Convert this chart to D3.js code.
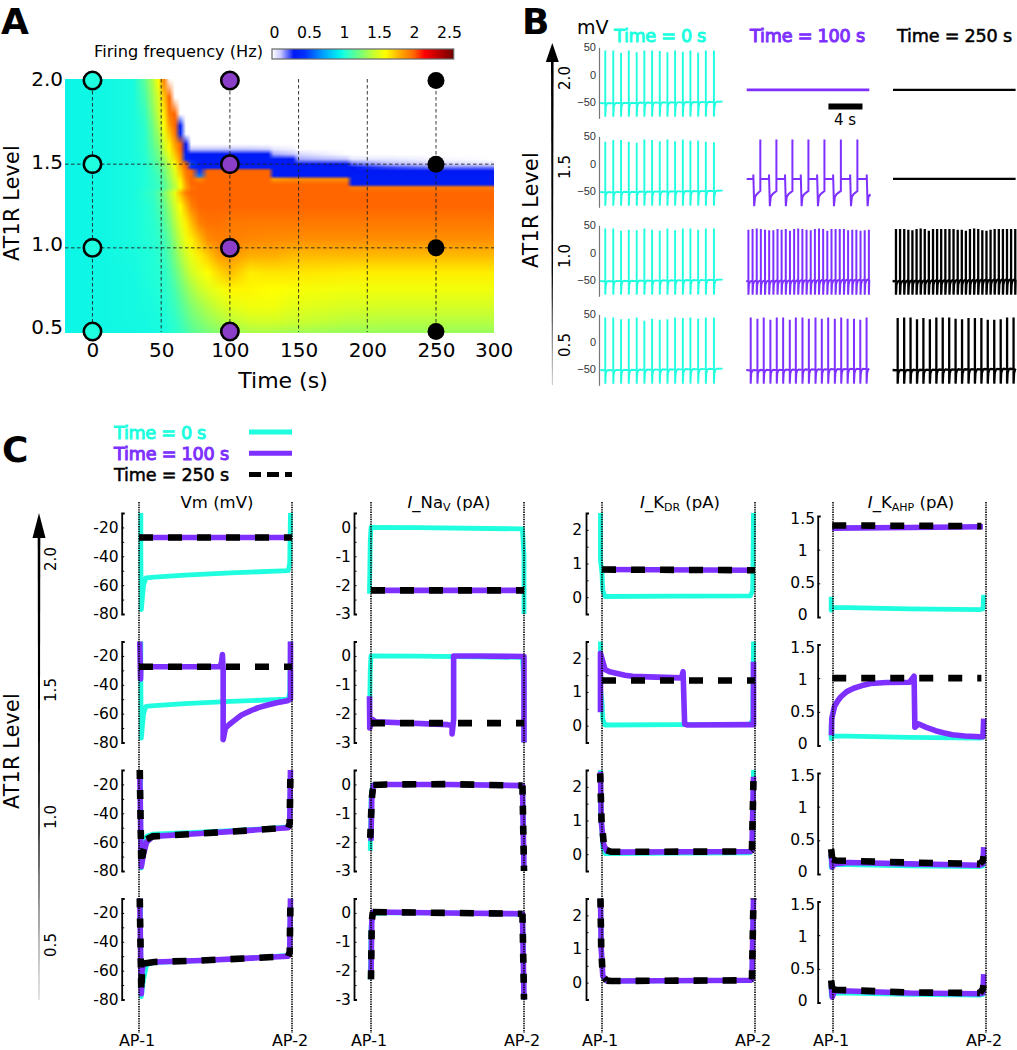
<!DOCTYPE html>
<html>
<head>
<meta charset="utf-8">
<script src="https://cdn.jsdelivr.net/npm/d3@7"></script>
<style>
  body { margin: 0; background: #fff; }
  svg { display: block; }
  text { font-family: "DejaVu Sans", sans-serif; fill: #000; }
</style>
</head>
<body>
<svg id="chart" width="1017" height="1050"></svg>
<script>
const CYAN = '#1fffdf'
const PURPLE = '#7d30ff'
const MARKER_PURPLE = '#8b3fc9'

// panel A: firing frequency, one row per level, one column per time
const heatTimes = [-20, 10, 30, 38, 44, 48, 52, 56, 60, 64, 68, 72, 78, 84, 92, 100, 115, 128, 132, 146, 150, 185, 189, 215, 250, 292]
const heatLevels = [2.01, 1.9, 1.8, 1.73, 1.68, 1.62, 1.59, 1.56, 1.53, 1.5, 1.48, 1.46, 1.43, 1.41, 1.38, 1.36, 1.33, 1.25, 1.15, 1.05, 0.95, 0.85, 0.75, 0.65, 0.55, 0.5]
const heatFreq = [
  [.95, .96, .98, 1.15, 1.35, 1.56, 1.9, 0, 0, 0, 0, 0, 0, 0, 0, 0, 0, 0, 0, 0, 0, 0, 0, 0, 0, 0],
  [.95, .96, .98, 1.1, 1.3, 1.45, 1.7, 1.95, 0, 0, 0, 0, 0, 0, 0, 0, 0, 0, 0, 0, 0, 0, 0, 0, 0, 0],
  [.95, .96, .98, 1.05, 1.25, 1.4, 1.6, 1.9, 1.95, 0, 0, 0, 0, 0, 0, 0, 0, 0, 0, 0, 0, 0, 0, 0, 0, 0],
  [.95, .96, .98, 1.03, 1.2, 1.35, 1.55, 1.8, 1.95, .35, 0, 0, 0, 0, 0, 0, 0, 0, 0, 0, 0, 0, 0, 0, 0, 0],
  [.95, .96, .98, 1.02, 1.18, 1.3, 1.5, 1.7, 1.9, .4, 0, 0, 0, 0, 0, 0, 0, 0, 0, 0, 0, 0, 0, 0, 0, 0],
  [.95, .96, .98, 1.02, 1.15, 1.25, 1.42, 1.6, 1.8, 1.95, .3, 0, 0, 0, 0, 0, 0, 0, 0, 0, 0, 0, 0, 0, 0, 0],
  [.95, .96, .98, 1.02, 1.13, 1.22, 1.4, 1.58, 1.75, 1.95, .3, .12, .12, .12, .12, .12, .12, .1, .05, .03, 0, 0, 0, 0, 0, 0],
  [.95, .96, .98, 1.01, 1.12, 1.2, 1.35, 1.5, 1.7, 1.9, .35, .32, .32, .32, .32, .32, .32, .3, .15, .12, .08, 0, 0, 0, 0, 0],
  [.95, .96, .98, 1.01, 1.1, 1.18, 1.3, 1.45, 1.65, 1.85, .4, .33, .33, .33, .33, .33, .33, .33, .32, .3, .15, .12, .05, .05, .02, 0],
  [.95, .96, .98, 1, 1.08, 1.15, 1.25, 1.4, 1.56, 1.8, 1.95, .5, .32, .32, .32, .32, .32, .32, .32, .32, .32, .3, .22, .14, .1, .06],
  [.95, .96, .98, 1, 1.06, 1.12, 1.22, 1.35, 1.5, 1.75, 1.95, .4, .33, .35, .35, .35, .35, .35, .32, .32, .32, .32, .3, .25, .2, .2],
  [.95, .96, .98, 1, 1.05, 1.1, 1.2, 1.32, 1.48, 1.7, 1.9, 1.95, .45, 1.95, 1.95, 1.95, 1.95, 1.95, .32, .32, .32, .32, .3, .3, .3, .3],
  [.95, .96, .98, 1, 1.04, 1.08, 1.18, 1.3, 1.45, 1.65, 1.88, 1.95, .6, 1.95, 1.95, 1.95, 1.95, 1.95, .34, .32, .32, .32, .32, .32, .32, .32],
  [.95, .96, .98, 1, 1.04, 1.07, 1.16, 1.28, 1.42, 1.6, 1.85, 1.95, 1.85, 1.95, 1.95, 1.95, 1.95, 1.95, 1.8, 1.85, 1.85, 1.85, .32, .32, .32, .32],
  [.95, .96, .98, 1, 1.03, 1.06, 1.14, 1.25, 1.38, 1.56, 1.8, 1.95, 1.95, 1.95, 1.95, 1.95, 1.95, 1.95, 1.95, 1.95, 1.95, 1.95, .33, .33, .33, .33],
  [.95, .96, .98, 1, 1.03, 1.05, 1.13, 1.24, 1.36, 1.54, 1.78, 1.92, 1.95, 1.95, 1.95, 1.95, 1.95, 1.95, 1.95, 1.95, 1.95, 1.95, 1.9, 1.9, 1.9, 1.9],
  [.95, .96, .98, 1.02, 1.05, 1.12, 1.22, 1.35, 1.5, 1.72, 1.9, 1.95, 1.95, 1.95, 1.95, 1.95, 1.95, 1.95, 1.95, 1.95, 1.95, 1.95, 1.95, 1.95, 1.95, 1.95],
  [.95, .96, .98, 1, 1.03, 1.08, 1.16, 1.28, 1.42, 1.56, 1.72, 1.88, 1.95, 1.95, 1.95, 1.95, 1.95, 1.95, 1.95, 1.95, 1.95, 1.95, 1.95, 1.95, 1.95, 1.95],
  [.95, .96, .98, 1, 1.02, 1.05, 1.12, 1.22, 1.35, 1.48, 1.6, 1.72, 1.88, 1.92, 1.92, 1.9, 1.9, 1.9, 1.9, 1.9, 1.9, 1.9, 1.9, 1.9, 1.9, 1.9],
  [.95, .96, .98, 1, 1.01, 1.03, 1.08, 1.16, 1.28, 1.4, 1.52, 1.6, 1.72, 1.85, 1.88, 1.88, 1.86, 1.85, 1.85, 1.84, 1.84, 1.84, 1.84, 1.84, 1.84, 1.84],
  [.95, .96, .98, .99, 1, 1.02, 1.05, 1.12, 1.22, 1.33, 1.42, 1.5, 1.6, 1.68, 1.8, 1.82, 1.75, 1.75, 1.75, 1.72, 1.72, 1.72, 1.72, 1.72, 1.72, 1.72],
  [.95, .96, .97, .99, 1, 1.01, 1.03, 1.08, 1.16, 1.25, 1.34, 1.42, 1.5, 1.56, 1.65, 1.72, 1.6, 1.62, 1.62, 1.62, 1.62, 1.6, 1.6, 1.6, 1.6, 1.6],
  [.95, .96, .97, .98, .99, 1, 1.02, 1.05, 1.1, 1.18, 1.25, 1.32, 1.4, 1.46, 1.52, 1.58, 1.58, 1.56, 1.56, 1.54, 1.54, 1.52, 1.52, 1.52, 1.52, 1.52],
  [.95, .96, .97, .98, .98, .99, 1, 1.03, 1.06, 1.12, 1.18, 1.24, 1.3, 1.36, 1.42, 1.48, 1.52, 1.52, 1.52, 1.48, 1.48, 1.45, 1.45, 1.44, 1.44, 1.44],
  [.95, .96, .97, .97, .98, .98, .99, 1.01, 1.03, 1.07, 1.12, 1.17, 1.22, 1.27, 1.32, 1.36, 1.42, 1.42, 1.42, 1.4, 1.4, 1.36, 1.36, 1.35, 1.35, 1.35],
  [.95, .96, .96, .97, .97, .98, .98, 1, 1.02, 1.05, 1.09, 1.14, 1.18, 1.22, 1.26, 1.3, 1.34, 1.34, 1.34, 1.32, 1.32, 1.3, 1.3, 1.3, 1.3, 1.3]
]
const colorValues = [0, .12, .3, .45, .7, .92, 1, 1.2, 1.4, 1.56, 1.75, 1.95, 2.1, 2.5]
const colorNames = ['#ffffff', '#c8c8ff', '#0018f4', '#0030ff', '#00a0ff', '#00f0f0', '#20ffd8', '#70ff80', '#c8ff30', '#ffff00', '#ffb000', '#ff6600', '#ff0000', '#700000']
const colorTicks = [0, 0.5, 1, 1.5, 2, 2.5]
const timeTicks = [0, 50, 100, 150, 200, 250, 300]
const gridTimes = [0, 50, 100, 150, 200, 250]
const levelTicks = [2, 1.5, 1, 0.5]
const gridLevels = [1.5, 1]
const markerTimes = [0, 100, 250]

// panel B: spike times (s) and peak voltages (mV) of each trace
const spikes0 = [.62, 1.56, 2.47, 3.38, 4.31, 5.21, 6.12, 7.02, 7.92, 8.82, 9.73, 10.62, 11.53, 12.43, 13.38]
const peaks0L20 = [44, 44, 40, 44, 41, 44, 44, 43, 41, 44, 42, 44, 40, 44, 44]
const peaks0L15 = [40, 43, 43, 40, 38, 44, 43, 41, 44, 41, 44, 42, 42, 40, 39]
const peaks0L10 = [44, 44, 40, 42, 41, 44, 42, 40, 44, 41, 44, 44, 42, 44, 44]
const peaks0L05 = [44, 44, 41, 42, 44, 38, 42, 40, 41, 44, 43, 44, 42, 44, 44]
const spikes100L10 = [.2, .69, 1.18, 1.66, 2.15, 2.64, 3.13, 3.62, 4.1, 4.59, 5.08, 5.57, 6.05, 6.54, 7.03, 7.52, 8.01, 8.49, 8.98, 9.47, 9.96, 10.44, 10.93, 11.42, 11.91, 12.4, 12.88, 13.37, 13.86, 14.35]
const peaks100L10 = [42, 43, 44, 43, 42, 41, 41, 43, 42, 43, 40, 43, 44, 43, 42, 41, 43, 44, 43, 40, 43, 43, 43, 43, 41, 42, 42, 40, 41, 42]
const spikes100L05 = [.47, 1.26, 2, 2.78, 3.53, 4.28, 5.06, 5.77, 6.55, 7.3, 8.08, 8.82, 9.57, 10.35, 11.1, 11.85, 12.6, 13.34, 14.08]
const peaks100L05 = [44, 42, 44, 40, 44, 44, 40, 44, 44, 42, 44, 42, 44, 42, 44, 42, 42, 40, 44]
const spikes250L10 = [.35, .83, 1.32, 1.8, 2.28, 2.77, 3.25, 3.73, 4.21, 4.7, 5.18, 5.66, 6.15, 6.63, 7.11, 7.6, 8.08, 8.56, 9.04, 9.53, 10.01, 10.49, 10.98, 11.46, 11.94, 12.43, 12.91, 13.39, 13.87, 14.36]
const peaks250L10 = [43, 43, 43, 42, 41, 43, 44, 43, 40, 43, 43, 43, 43, 43, 43, 42, 42, 40, 43, 44, 43, 41, 40, 42, 43, 43, 43, 43, 43, 43]
const spikes250L05 = [.55, 1.31, 2.06, 2.82, 3.57, 4.33, 5.09, 5.84, 6.6, 7.35, 8.11, 8.87, 9.62, 10.38, 11.13, 11.89, 12.65, 13.4, 14.16]
const peaks250L05 = [43, 44, 44, 41, 43, 41, 44, 44, 44, 42, 41, 43, 43, 43, 40, 40, 41, 44, 44]
// level 1.5 at 100 s alternates between a plateau and a spike
const burstBumps = [.78, 2.62, 4.5, 6.35, 8.27, 10.15, 12.15, 14.1]
const burstSpikes = [1.6, 3.49, 5.37, 7.25, 9.13, 11.06, 13, 14.4]
const plateau100 = [-28]
const plateau250 = [-28]
const traceTicks = [50, 0, -50]
const traceLevels = ['2.0', '1.5', '1.0', '0.5']

// panel C: x runs from AP-1 (0) to AP-2 (1)
const vmCyan = [[.012, -10], [.012, -40], [.015, -77], [.03, -60], [.045, -55], [.1, -54.5], [.3, -53], [.6, -51.5], [.975, -50], [.985, -45], [.99, -10]]
const vmFlat20 = [[0, -27], [1, -27]]
const vmFlat15 = [[0, -27.5], [1, -27.5]]
const vmPurple15 = [[.005, -10], [.01, -36], [.012, -27.5], [.53, -27.5], [.54, -24], [.545, -19], [.55, -30], [.55, -78], [.565, -70], [.59, -67.5], [.62, -65], [.67, -61], [.73, -58], [.78, -55.8], [.84, -54], [.9, -52.5], [.97, -51], [.99, -50], [.99, -10]]
const vmCyan10 = [[.01, -10], [.012, -60], [.015, -78], [.03, -66], [.05, -56], [.09, -54.5], [.4, -53], [.7, -51.5], [.975, -49.5], [.985, -47], [.99, -10]]
const vmPurple10 = [[.005, -10], [.012, -60], [.015, -77], [.03, -68], [.05, -60], [.09, -56], [.4, -54], [.7, -52], [.975, -50], [.985, -48], [.99, -10]]
const vmBlack10 = [[.005, -10], [.012, -55], [.015, -75], [.03, -65], [.05, -58], [.09, -56], [.4, -54], [.7, -52], [.975, -50], [.985, -47], [.99, -10]]
const vmPurple05 = [[.005, -10], [.012, -60], [.015, -76], [.02, -60], [.03, -55], [.1, -54], [.4, -53], [.7, -51.5], [.975, -50], [.985, -48], [.99, -10]]
const vmBlack05 = [[.005, -10], [.012, -55], [.015, -74], [.02, -60], [.03, -55], [.1, -54], [.4, -53], [.7, -51.5], [.975, -50], [.985, -47], [.99, -10]]

const naCyan = [[-.01, -2.3], [-.005, -.5], [0, 0], [.3, -.01], [.99, -.05], [1, -1], [1, -3]]
const naFlat20 = [[0, -2.18], [1, -2.18]]
const naFlat15 = [[0, -2.33], [1, -2.33]]
const naPurple15 = [[-.01, -1.4], [-.008, -2.5], [.01, -2.2], [.03, -2.28], [.5, -2.38], [.53, -2.42], [.53, -2.7], [.54, -2.2], [.54, 0], [.7, 0], [1, -.02], [1, -3]]
const naCyan10 = [[-.005, -2.3], [0, -.5], [.01, -.02], [.1, 0], [.5, 0], [.99, -.04], [1, -3]]
const naPurple10 = [[0, -1.95], [.005, -.5], [.015, -.03], [.1, 0], [.5, 0], [.99, -.04], [1, -3]]
const naBlack10 = [[-.005, -1.85], [.005, -.5], [.015, -.02], [.1, 0], [.5, .01], [.99, -.04], [1, -3]]
const naPurple05 = [[0, -2.3], [.005, -.3], [.012, .03], [.5, 0], [.99, -.03], [1, -3]]

const kdrCyan = [[-.01, 2.5], [-.01, 1.1], [0, .7], [.005, .2], [.02, .02], [.5, .03], [.97, .04], [.985, .2], [.99, 2.5]]
const kdrFlat20 = [[0, .82], [1, .8]]
const kdrFlat15 = [[0, 1.34], [1, 1.34]]
const kdrPurple15 = [[-.01, .4], [-.01, 2.15], [.02, 1.67], [.05, 1.6], [.1, 1.55], [.15, 1.5], [.2, 1.47], [.3, 1.45], [.52, 1.42], [.53, 1.6], [.54, .05], [.56, .02], [.97, .03], [.99, .03], [.99, 1.9]]
const kdrPurple10 = [[-.01, 2.45], [-.005, 1], [.01, .3], [.03, .1], [.06, .06], [.97, .08], [.98, .1], [.99, 2.3]]
const kdrBlack10 = [[-.012, 2.4], [-.003, 1], [.012, .3], [.03, .12], [.06, .07], [.97, .08], [.98, .12], [.99, 2.2]]
const kdrPurple05 = [[-.01, 2.5], [-.005, 1], [.005, .2], [.03, .06], [.06, .05], [.97, .07], [.98, .1], [.99, 2.5]]

const ahpCyan = [[-.012, .3], [-.012, .1], [0, .14], [.1, .14], [.5, .12], [.96, .11], [.98, .12], [.985, .33]]
const ahpFlat20 = [[-.005, 1.32], [.5, 1.33], [.98, 1.34]]
const ahpBlack20 = [[-.005, 1.36], [.97, 1.35]]
const ahpBlack15 = [[-.005, 1], [.97, 1]]
const ahpPurple15 = [[-.01, .15], [-.008, .4], [.01, .58], [.03, .66], [.05, .72], [.09, .8], [.135, .85], [.19, .89], [.245, .92], [.35, .935], [.5, .94], [.53, 1.03], [.535, .27], [.56, .32], [.61, .27], [.67, .22], [.72, .19], [.78, .16], [.86, .14], [.96, .13], [.98, .13], [.985, .4]]
const ahpPurple10 = [[-.012, .3], [-.005, .1], [.01, .15], [.1, .17], [.5, .15], [.96, .13], [.98, .15], [.985, .4]]
const ahpBlack10 = [[-.012, .37], [-.005, .22], [.02, .2], [.5, .17], [.96, .15], [.98, .2], [.985, .3]]
const ahpPurple05 = [[-.012, .27], [-.005, .08], [.01, .17], [.1, .17], [.5, .14], [.96, .13], [.98, .14], [.985, .42]]
const ahpBlack05 = [[-.012, .33], [-.005, .2], [.02, .19], [.5, .15], [.96, .14], [.98, .2], [.985, .3]]

const currentRows = [
  [[vmCyan, vmFlat20, vmFlat20], [vmCyan, vmPurple15, vmFlat15], [vmCyan10, vmPurple10, vmBlack10], [vmCyan10, vmPurple05, vmBlack05]],
  [[naCyan, naFlat20, naFlat20], [naCyan, naPurple15, naFlat15], [naCyan10, naPurple10, naBlack10], [naCyan10, naPurple05, naPurple05]],
  [[kdrCyan, kdrFlat20, kdrFlat20], [kdrCyan, kdrPurple15, kdrFlat15], [kdrCyan, kdrPurple10, kdrBlack10], [kdrPurple05, kdrPurple05, kdrPurple05]],
  [[ahpCyan, ahpFlat20, ahpBlack20], [ahpCyan, ahpPurple15, ahpBlack15], [ahpCyan, ahpPurple10, ahpBlack10], [ahpCyan, ahpPurple05, ahpBlack05]]
]
const vmTicks = [-10, -20, -30, -40, -50, -60, -70, -80]
const naTicks = [.5, 0, -.5, -1, -1.5, -2, -2.5, -3]
const kdrTicks = [2.5, 2, 1.5, 1, .5, 0, -.5]
const ahpTicks = [1.5, 1, .5, 0]
const legendNames = ['Time = 0 s', 'Time = 100 s', 'Time = 250 s']
const seriesColors = [CYAN, PURPLE, '#000']

const svg = d3.select('#chart')

// ---------- panel labels ----------
const panelLabels = [['A', 1, 33.5], ['B', 522, 33.5], ['C', 2, 462]]
svg.selectAll('.panel-label')
  .data(panelLabels)
  .join('text')
  .attr('class', 'panel-label')
  .attr('x', (d) => d[1])
  .attr('y', (d) => d[2])
  .attr('font-size', 36)
  .attr('font-weight', 'bold')
  .text((d) => d[0])

const levelTitle = (x, y) => {
  svg.append('text')
    .attr('transform', `translate(${x},${y}) rotate(-90)`)
    .attr('text-anchor', 'middle')
    .attr('font-size', 20.5)
    .attr('letter-spacing', 0.3)
    .text('AT1R Level')
}

// ---------- panel A ----------
const drawHeat = () => {
  const x = d3.scaleLinear().domain([-20, 292]).range([65, 493.7]).clamp(true)
  const y = d3.scaleLinear().domain([2, 0.5]).range([80.5, 331.5])
  const color = d3.scaleLinear().domain(colorValues).range(colorNames)

  // colors are blended in rgb between the cells, as a resampled image would be
  const cells = heatFreq.map((row) => row.map((v) => d3.rgb(color(v))))
  const negLevels = heatLevels.map((d) => -d)
  const x0 = 65
  const y0 = Math.round(y(2.01))
  const w = 429
  const h = Math.round(y(0.5)) - y0 + 1
  const canvas = document.createElement('canvas')
  canvas.width = w
  canvas.height = h
  const ctx = canvas.getContext('2d')
  const img = ctx.createImageData(w, h)
  for (let py = 0; py < h; py++) {
    const level = y.invert(y0 + py + 0.5)
    const j = Math.min(Math.max(d3.bisectLeft(negLevels, -level), 1), heatLevels.length - 1)
    const fy = Math.min(Math.max((heatLevels[j - 1] - level) / (heatLevels[j - 1] - heatLevels[j]), 0), 1)
    for (let px = 0; px < w; px++) {
      const t = x.invert(x0 + px + 0.5)
      const i = Math.min(Math.max(d3.bisectLeft(heatTimes, t), 1), heatTimes.length - 1)
      const fx = (t - heatTimes[i - 1]) / (heatTimes[i] - heatTimes[i - 1])
      const mix = (k) => (cells[j - 1][i - 1][k] * (1 - fx) + cells[j - 1][i][k] * fx) * (1 - fy) +
        (cells[j][i - 1][k] * (1 - fx) + cells[j][i][k] * fx) * fy
      const o = (py * w + px) * 4
      img.data[o] = mix('r')
      img.data[o + 1] = mix('g')
      img.data[o + 2] = mix('b')
      img.data[o + 3] = 255
    }
  }
  ctx.putImageData(img, 0, 0)
  const a = svg.append('g').attr('class', 'panel-a')
  a.append('image')
    .attr('x', x0)
    .attr('y', y0)
    .attr('width', w)
    .attr('height', h)
    .attr('href', canvas.toDataURL())

  // dashed guide lines
  a.selectAll('.grid-v')
    .data(gridTimes)
    .join('line')
    .attr('x1', (d) => x(d))
    .attr('x2', (d) => x(d))
    .attr('y1', 79)
    .attr('y2', 332)
  a.selectAll('.grid-h')
    .data(gridLevels)
    .join('line')
    .attr('x1', 65)
    .attr('x2', 494)
    .attr('y1', (d) => y(d))
    .attr('y2', (d) => y(d))
  a.selectAll('line')
    .attr('stroke', '#222')
    .attr('stroke-width', 0.9)
    .attr('stroke-dasharray', '3.5,2.5')

  // markers
  const markers = markerTimes.flatMap((t, i) => levelTicks.map((l) => ({ t, l, i })))
  a.selectAll('circle')
    .data(markers)
    .join('circle')
    .attr('cx', (d) => x(d.t))
    .attr('cy', (d) => y(d.l))
    .attr('r', (d) => (d.i === 2 ? 8.5 : 8.7))
    .attr('fill', (d) => [CYAN, MARKER_PURPLE, '#000'][d.i])
    .attr('stroke', '#000')
    .attr('stroke-width', (d) => (d.i === 2 ? 0 : 2.6))

  // time labels, the 300 sits at the clamped right edge
  const xAxis = d3.axisBottom(x).tickValues(timeTicks).tickSize(0).tickPadding(0)
  const gx = a.append('g').attr('transform', 'translate(0,343)').call(xAxis)
  gx.select('.domain').remove()
  gx.selectAll('text').attr('font-size', 20)

  const labelY = d3.scaleLinear().domain([2, 0.5]).range([79, 327])
  const yAxis = d3.axisLeft(labelY).tickValues(levelTicks).tickFormat(d3.format('.1f')).tickSize(0).tickPadding(0)
  const gy = a.append('g').attr('transform', 'translate(63,0)').call(yAxis)
  gy.select('.domain').remove()
  gy.selectAll('text').attr('font-size', 20)

  a.append('text')
    .attr('x', 283)
    .attr('y', 388)
    .attr('text-anchor', 'middle')
    .attr('font-size', 22)
    .text('Time (s)')
  levelTitle(19, 203)

  // colorbar
  const defs = svg.append('defs')
  const cb = d3.scaleLinear().domain([0, 2.5]).range([272, 453.7])
  const grad = defs.append('linearGradient').attr('id', 'colorbar')
  grad.selectAll('stop')
    .data(colorValues)
    .join('stop')
    .attr('offset', (d) => d / 2.5)
    .attr('stop-color', (d) => color(d))
  a.append('rect')
    .attr('x', cb(0))
    .attr('y', 49)
    .attr('width', cb(2.5) - cb(0))
    .attr('height', 10)
    .attr('fill', 'url(#colorbar)')
    .attr('stroke', '#666')
    .attr('stroke-width', 1.2)
  const labelCb = d3.scaleLinear().domain([0, 2.5]).range([274, 449])
  const gc = a.append('g')
    .attr('transform', 'translate(0,27)')
    .call(d3.axisBottom(labelCb).tickValues(colorTicks).tickFormat(String).tickSize(0).tickPadding(0))
  gc.select('.domain').remove()
  gc.selectAll('text').attr('font-size', 15.7)
  a.append('text')
    .attr('x', 94)
    .attr('y', 57)
    .attr('font-size', 16.2)
    .text('Firing frequency (Hz)')
}

// ---------- panel B ----------
const ROW_STEP_B = 89
const traceX = d3.scaleLinear().domain([0, 14.4]).range([0, 122.6])
const traceY = d3.scaleLinear().domain([50, -80]).range([47.3, 118.3])
const traceLine = d3.line().x((d) => traceX(d[0])).y((d) => traceY(d[1]))

// flat base with the spike going up to its peak and down to the trough
const spikeTrain = (times, peaks) => {
  const pts = [[Math.max(times[0] - 0.6, -0.05), -52]]
  times.forEach((s, i) => {
    const base = -52 + (s / 14.4) * 2.5
    pts.push([s, base - 1], [s, peaks[i]], [s, -77], [s + 0.06, -58], [s + 0.18, base - 1.5], [s + 0.34, base])
  })
  pts.push([14.4, -49.5])
  return pts.filter((d) => d[0] <= 14.4)
}

const burstTrain = () => {
  const pts = [[0, plateau100[0]]]
  burstBumps.forEach((b, i) => {
    const s = burstSpikes[i]
    pts.push([b, -28], [b, -20], [b + 0.1, -78], [b + 0.2, -61], [b + 0.4, -56])
    if (i < burstBumps.length - 1) pts.push([s, -50], [s, 44], [s, -28])
    else pts.push([s, -60])
  })
  return pts
}

const traceCols = [
  { x: 600, color: CYAN, width: 1.9, rows: [
    spikeTrain(spikes0, peaks0L20), spikeTrain(spikes0, peaks0L15),
    spikeTrain(spikes0, peaks0L10), spikeTrain(spikes0, peaks0L05)] },
  { x: 746.7, color: PURPLE, width: 2, rows: [
    [[0, plateau100[0]], [14.4, plateau100[0]]], burstTrain(),
    spikeTrain(spikes100L10, peaks100L10), spikeTrain(spikes100L05, peaks100L05)] },
  { x: 893, color: '#000', width: 2.3, rows: [
    [[0, plateau250[0]], [14.4, plateau250[0]]], [[0, plateau250[0]], [14.4, plateau250[0]]],
    spikeTrain(spikes250L10, peaks250L10), spikeTrain(spikes250L05, peaks250L05)] }
]

const drawArrow = (g, x, tip, headBase, tail, id) => {
  const grad = svg.select('defs').append('linearGradient')
    .attr('id', id)
    .attr('gradientUnits', 'userSpaceOnUse')
    .attr('x1', 0).attr('x2', 0).attr('y1', tip).attr('y2', tail)
  grad.append('stop').attr('offset', 0.65).attr('stop-color', '#000')
  grad.append('stop').attr('offset', 1).attr('stop-color', '#bbb')
  g.append('path')
    .attr('d', `M${x - 1.3},${headBase} L${x + 1.3},${headBase} L${x + 0.4},${tail} L${x - 0.4},${tail} Z`)
    .attr('fill', `url(#${id})`)
  g.append('path')
    .attr('d', `M${x},${tip} L${x + 6.5},${headBase} L${x - 6.5},${headBase} Z`)
    .attr('fill', '#000')
}

const drawTraces = () => {
  const b = svg.append('g').attr('class', 'panel-b')
  drawArrow(b, 552.3, 43, 62, 385, 'arrowB')
  levelTitle(538, 210)

  traceLevels.forEach((name, r) => {
    const rowY = r * ROW_STEP_B
    b.append('text')
      .attr('transform', `translate(570,${78 + rowY}) rotate(-90)`)
      .attr('text-anchor', 'middle')
      .attr('font-size', 15)
      .text(name)

    const g = b.append('g')
      .attr('transform', `translate(599,${rowY})`)
      .call(d3.axisLeft(traceY).tickValues(traceTicks).tickSize(0).tickPadding(3))
    g.select('.domain').attr('stroke', '#777').attr('stroke-width', 1.2)
    g.selectAll('text')
      .attr('font-size', 11)
      .style('font-family', '"Liberation Sans", sans-serif')
      .style('fill', '#333')

    traceCols.forEach((col) => {
      b.append('path')
        .attr('transform', `translate(${col.x},${rowY})`)
        .attr('d', traceLine(col.rows[r]))
        .attr('fill', 'none')
        .attr('stroke', col.color)
        .attr('stroke-width', r === 0 && col.x > 700 && col.x < 800 ? 2.6 : col.width)
    })
  })

  b.append('text').attr('x', 577).attr('y', 34).attr('font-size', 19).text('mV')

  const titleX = [614, 750, 897]
  legendNames.forEach((name, i) => {
    b.append('text')
      .attr('x', titleX[i])
      .attr('y', 42)
      .attr('font-size', 17.6)
      .attr('letter-spacing', i === 0 ? -0.3 : -0.2)
      .style('fill', seriesColors[i])
      .attr('stroke', seriesColors[i])
      .attr('stroke-width', i === 2 ? 0.5 : 1)
      .text(name)
  })

  // 4 s scale bar
  b.append('rect')
    .attr('x', 746.7 + traceX(9.6))
    .attr('y', 103.5)
    .attr('width', traceX(4))
    .attr('height', 6)
  b.append('text')
    .attr('x', 845)
    .attr('y', 125)
    .attr('text-anchor', 'middle')
    .attr('font-size', 15)
    .text('4 s')
}

// ---------- panel C ----------
const ROW_STEP_C = 128.5
const plotX = d3.scaleLinear().domain([0, 1]).range([0, 153])
const columns = [
  { left: 139, spine: 121.7, pad: 3, ticks: vmTicks, domain: [-10, -80], top: 513, bottom: 614, title: ['Vm (mV)'], label: (d) => (d % 20 === 0 ? d : '') },
  { left: 371, spine: 354, pad: 3, ticks: naTicks, domain: [.5, -3], top: 513, bottom: 614, title: ['I', '_Na', 'V', ' (pA)'], label: (d) => (Number.isInteger(d) ? d : '') },
  { left: 602, spine: 586, pad: 4, ticks: kdrTicks, domain: [2.5, -.5], top: 513, bottom: 614, title: ['I', '_K', 'DR', ' (pA)'], label: (d) => (Number.isInteger(d) && d >= 0 ? d : '') },
  { left: 833, spine: 817.7, pad: 3, ticks: ahpTicks, domain: [1.5, 0], top: 516, bottom: 617, title: ['I', '_K', 'AHP', ' (pA)'], label: (d) => d }
]

const HORIZONTAL_DASH = '14,15'
const VERTICAL_DASH = '9,11'

// the black trace dashes look denser on the steep parts, so it is drawn in runs
const splitRuns = (pts, y) => {
  const runs = []
  let cur = [pts[0]]
  let prev = null
  d3.pairs(pts).forEach(([a, b]) => {
    const steep = Math.abs(y(b[1]) - y(a[1])) > Math.abs(plotX(b[0]) - plotX(a[0]))
    if (prev !== null && steep !== prev) {
      runs.push({ pts: cur, steep: prev })
      cur = [a]
    }
    cur.push(b)
    prev = steep
  })
  runs.push({ pts: cur, steep: prev })
  return runs
}

const drawCurrents = () => {
  const c = svg.append('g').attr('class', 'panel-c')

  drawArrow(c, 39, 513, 538, 1000, 'arrowC')
  levelTitle(19, 751)
  traceLevels.forEach((name, r) => {
    c.append('text')
      .attr('transform', `translate(56,${[559, 690, 817, 945][r]}) rotate(-90)`)
      .attr('text-anchor', 'middle')
      .attr('font-size', 15)
      .text(name)
  })

  columns.forEach((col, ci) => {
    const y = d3.scaleLinear().domain(col.domain).range([col.top, col.bottom])
    const line = d3.line().x((d) => plotX(d[0])).y((d) => y(d[1]))
    const axis = d3.axisLeft(y)
      .tickValues(col.ticks)
      .tickFormat(col.label)
      .tickSizeInner(-2.5)
      .tickSizeOuter(-3)
      .tickPadding(col.pad)

    d3.range(4).forEach((r) => {
      const rowY = r * ROW_STEP_C
      const g = c.append('g').attr('transform', `translate(${col.spine},${rowY})`).call(axis)
      g.select('.domain').attr('stroke-width', 1.8)
      g.selectAll('text').attr('font-size', 15.5)

      // the last panel has its labels centred and slightly squeezed
      if (ci === 3) {
        const shift = d3.scaleLinear().domain([1.5, 0]).range([3, -2])
        g.selectAll('.tick text')
          .attr('text-anchor', 'middle')
          .attr('x', -15)
          .attr('y', (d) => shift(d))
      }

      const plot = c.append('g').attr('transform', `translate(${col.left},${rowY})`)
      const [cyan, purple, black] = currentRows[ci][r]
      plot.append('path')
        .attr('d', line(cyan))
        .attr('fill', 'none')
        .attr('stroke', CYAN)
        .attr('stroke-width', 4.8)
        .attr('stroke-linejoin', 'round')
      plot.append('path')
        .attr('d', line(purple))
        .attr('fill', 'none')
        .attr('stroke', PURPLE)
        .attr('stroke-width', 5.6)
        .attr('stroke-linejoin', 'round')
      splitRuns(black, y).forEach((run) => {
        plot.append('path')
          .attr('d', line(run.pts))
          .attr('fill', 'none')
          .attr('stroke', '#000')
          .attr('stroke-width', 6.6)
          .attr('stroke-dasharray', run.steep ? VERTICAL_DASH : HORIZONTAL_DASH)
      })
    })

    // AP guide lines go over the traces
    const guides = c.append('g').attr('transform', `translate(${col.left},0)`)
    guides.selectAll('line')
      .data([0, 1])
      .join('line')
      .attr('x1', (d) => plotX(d))
      .attr('x2', (d) => plotX(d))
      .attr('y1', 502)
      .attr('y2', 1033)
      .attr('stroke', '#000')
      .attr('stroke-width', 1.6)
      .attr('stroke-dasharray', '1.4,1')
    guides.selectAll('text')
      .data([0, 1])
      .join('text')
      .attr('x', (d) => plotX(d) - 2)
      .attr('y', 1046)
      .attr('text-anchor', 'middle')
      .attr('font-size', 16)
      .text((d) => `AP-${d + 1}`)

    // title, italic I and a small subscript where there is one
    const title = c.append('text')
      .attr('x', col.left + 78)
      .attr('y', 508)
      .attr('text-anchor', 'middle')
      .attr('font-size', 16.5)
    if (col.title.length === 1) {
      title.text(col.title[0])
    } else {
      title.append('tspan').attr('font-style', 'italic').text(col.title[0])
      title.append('tspan').text(col.title[1])
      title.append('tspan').attr('font-size', 11).attr('dy', 3).text(col.title[2])
      title.append('tspan').attr('dy', -3).text(col.title[3])
    }
  })

  // legend
  legendNames.forEach((name, i) => {
    c.append('text')
      .attr('x', 114)
      .attr('y', 439 + i * 21)
      .attr('font-size', 17.6)
      .attr('letter-spacing', i === 0 ? -0.3 : -0.2)
      .style('fill', seriesColors[i])
      .attr('stroke', seriesColors[i])
      .attr('stroke-width', i === 2 ? 0.5 : 1)
      .text(name)
    c.append('line')
      .attr('x1', 249)
      .attr('x2', 292)
      .attr('y1', 432 + i * 21.2)
      .attr('y2', 432 + i * 21.2)
      .attr('stroke', seriesColors[i])
      .attr('stroke-width', 5)
      .attr('stroke-dasharray', i === 2 ? '12,6' : null)
  })
}

drawHeat()
drawTraces()
drawCurrents()
</script>
</body>
</html>
